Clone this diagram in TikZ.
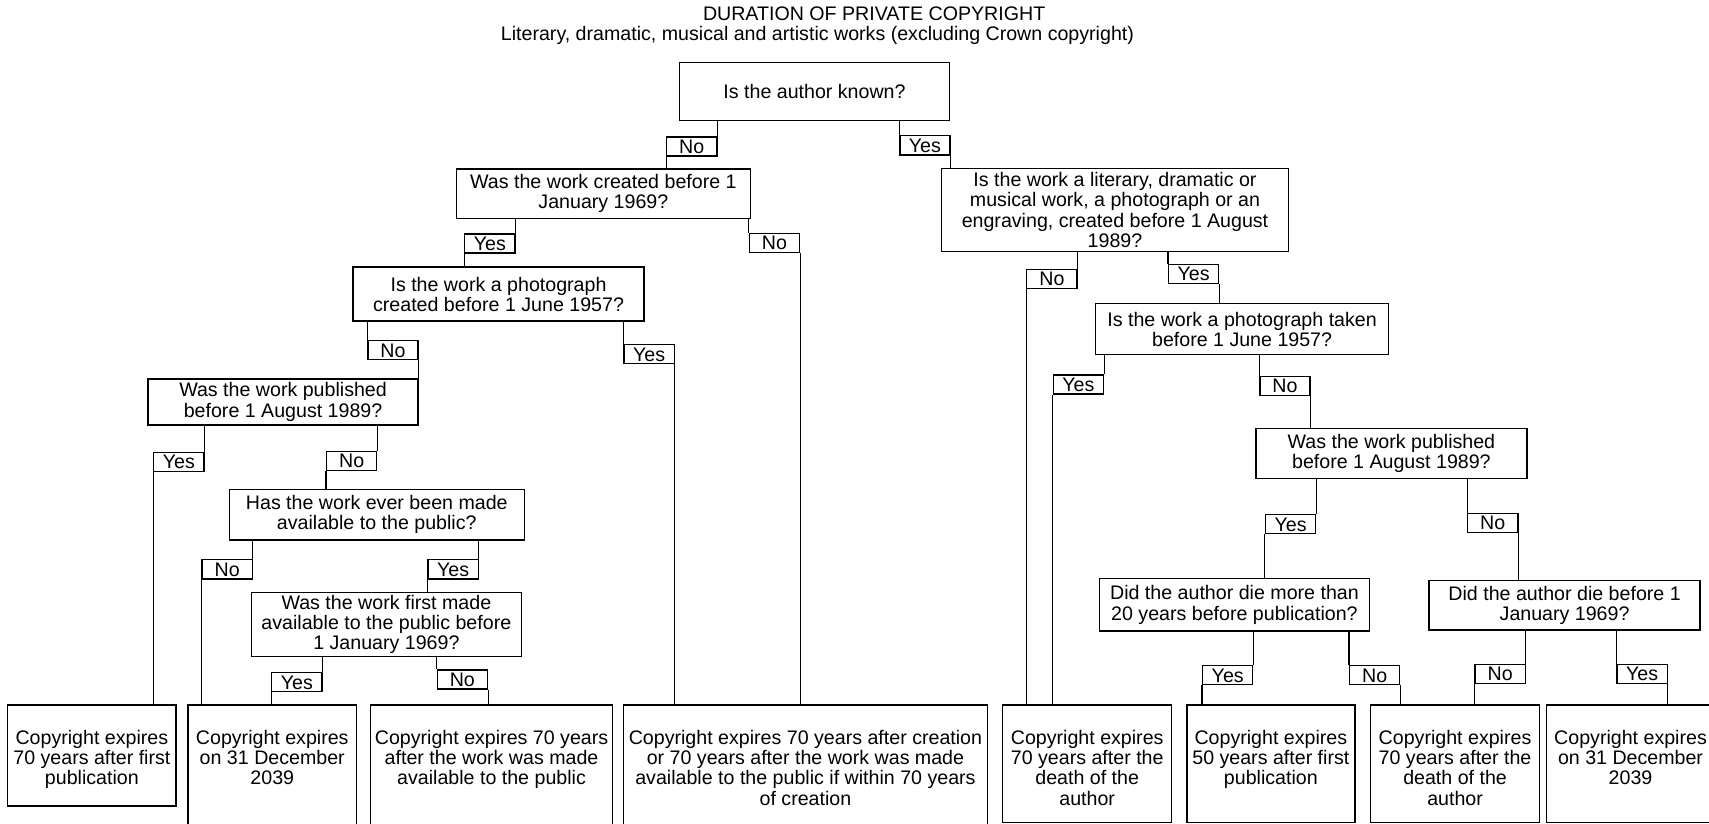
\documentclass[tikz,border=0pt]{standalone}
\usepackage{fontspec}
\setmainfont{Liberation Sans}
\usetikzlibrary{positioning}

% text of an end box, set from its top
\newcommand{\outtext}[3]{\parbox[t][#1][t]{#2}{\centering\rule{0pt}{36.5pt}#3}}

\begin{document}
\begin{tikzpicture}[
    x=1pt, y=-1pt,
    qbox/.style={rectangle, draw, line width=1.3pt, inner sep=0pt, align=center, font=\fontsize{18}{18.5}\selectfont},
    endbox/.style={rectangle, draw, line width=1.3pt, inner sep=0pt, anchor=north, font=\fontsize{18}{18.5}\selectfont},
    ansbox/.style={rectangle, draw, line width=1.2pt, inner sep=0pt, minimum width=46pt, minimum height=17.5pt, text height=12.9pt, text depth=0pt, font=\fontsize{18}{18.5}\selectfont},
    link/.style={line width=1pt},
    heading/.style={anchor=base, font=\fontsize{18}{18.5}\selectfont}
]
\useasboundingbox (0,0) rectangle (1568,756);

% Title
\node[heading] (title) at (802,19) {DURATION OF PRIVATE COPYRIGHT};
\node[heading] (subtitle) at (750,37.3) {Literary, dramatic, musical and artistic works (excluding Crown copyright)};

% Questions
\node[qbox, minimum width=248pt, minimum height=53pt] (q1) at (747.3,84.1) {Is the author known?};
\node[qbox, minimum width=270pt, minimum height=45.3pt] (q2) at (553.6,177.7) {Was the work created before 1\\January 1969?};
\node[qbox, minimum width=318pt, minimum height=76.6pt] (q3) at (1023,192.7) {Is the work a literary, dramatic or\\musical work, a photograph or an\\engraving, created before 1 August\\1989?};
\node[qbox, minimum width=266.8pt, minimum height=49.5pt] (q4) at (457.4,269.8) {Is the work a photograph\\created before 1 June 1957?};
\node[qbox, minimum width=247.5pt, minimum height=42.3pt] (q5) at (259.7,368.8) {Was the work published\\before 1 August 1989?};
\node[qbox, minimum width=270.7pt, minimum height=46.5pt] (q6) at (345.7,472.2) {Has the work ever been made\\available to the public?};
\node[qbox, minimum width=248pt, minimum height=59pt] (q7) at (354.5,573) {Was the work first made\\available to the public before\\1 January 1969?};
\node[qbox, minimum width=268.7pt, minimum height=46.8pt] (q8) at (1139.6,302) {Is the work a photograph taken\\before 1 June 1957?};
\node[qbox, minimum width=248.7pt, minimum height=46pt] (q9) at (1276.6,416) {Was the work published\\before 1 August 1989?};
\node[qbox, minimum width=247.6pt, minimum height=48pt] (q10) at (1132.6,555) {Did the author die more than\\20 years before publication?};
\node[qbox, minimum width=248.5pt, minimum height=45.6pt] (q11) at (1435.5,555.2) {Did the author die before 1\\January 1969?};

% Outcomes
\node[endbox] (f1) at (84.3,646) {\outtext{93pt}{154.6pt}{Copyright expires\\70 years after first\\publication}};
\node[endbox] (f2) at (249.8,646) {\outtext{130pt}{154.4pt}{Copyright expires\\on 31 December\\2039}};
\node[endbox] (f3) at (451,646) {\outtext{130pt}{222pt}{Copyright expires 70 years\\after the work was made\\available to the public}};
\node[endbox] (f4) at (739,646) {\outtext{130pt}{334pt}{Copyright expires 70 years after creation\\or 70 years after the work was made\\available to the public if within 70 years\\of creation}};
\node[endbox] (f5) at (997.5,646) {\outtext{108pt}{155pt}{Copyright expires\\70 years after the\\death of the\\author}};
\node[endbox] (f6) at (1166,646) {\outtext{108pt}{154pt}{Copyright expires\\50 years after first\\publication}};
\node[endbox] (f7) at (1335,646) {\outtext{108pt}{155pt}{Copyright expires\\70 years after the\\death of the\\author}};
\node[endbox] (f8) at (1496,646) {\outtext{108pt}{154pt}{Copyright expires\\on 31 December\\2039}};

% Answers
\node[ansbox, anchor=north east] (q1no) at (658.3,125) {No};
\node[ansbox, anchor=north west] (q1yes) at (825,124) {Yes};
\node[ansbox, anchor=north east] (q2yes) at (473,214) {Yes};
\node[ansbox, anchor=north west] (q2no) at (687,213.5) {No};
\node[ansbox, anchor=north east] (q3no) at (988.7,246.5) {No};
\node[ansbox, anchor=north west] (q3yes) at (1071.6,242) {Yes};
\node[ansbox, anchor=north west] (q4no) at (337,312) {No};
\node[ansbox, anchor=north west] (q4yes) at (572,315.6) {Yes};
\node[ansbox, anchor=north east] (q5yes) at (187.7,414.4) {Yes};
\node[ansbox, anchor=north east] (q5no) at (346.3,413.5) {No};
\node[ansbox, anchor=north east] (q6no) at (232,513) {No};
\node[ansbox, anchor=north east] (q6yes) at (439.4,513) {Yes};
\node[ansbox, anchor=north east] (q7yes) at (296,616.5) {Yes};
\node[ansbox, anchor=north west] (q7no) at (400.6,614) {No};
\node[ansbox, anchor=north east] (q8yes) at (1013,343.4) {Yes};
\node[ansbox, anchor=north west] (q8no) at (1155.3,344.7) {No};
\node[ansbox, anchor=north east] (q9yes) at (1207.7,471.6) {Yes};
\node[ansbox, anchor=north west] (q9no) at (1346,470.4) {No};
\node[ansbox, anchor=north east] (q10yes) at (1150,610) {Yes};
\node[ansbox, anchor=north west] (q10no) at (1237.7,610) {No};
\node[ansbox, anchor=north east] (q11no) at (1400,609) {No};
\node[ansbox, anchor=north west] (q11yes) at (1483,609) {Yes};

% Links through the answers
\draw[link] (q1.south -| q1no.north east) -- (q1no.north east) (q1no.south west) -- (q1no.south west |- q2.north);
\draw[link] (q1.south -| q1yes.north west) -- (q1yes.north west) (q1yes.south east) -- (q1yes.south east |- q3.north);
\draw[link] (q2.south -| q2yes.north east) -- (q2yes.north east) (q2yes.south west) -- (q2yes.south west |- q4.north);
\draw[link] (q2.south -| q2no.north west) -- (q2no.north west) (q2no.south east) -- (q2no.south east |- f4.north);
\draw[link] (q3.south -| q3no.north east) -- (q3no.north east) (q3no.south west) -- (q3no.south west |- f5.north);
\draw[link] (q3.south -| q3yes.north west) -- (q3yes.north west) (q3yes.south east) -- (q3yes.south east |- q8.north);
\draw[link] (q4.south -| q4no.north west) -- (q4no.north west) (q4no.south east) -- (q4no.south east |- q5.north);
\draw[link] (q4.south -| q4yes.north west) -- (q4yes.north west) (q4yes.south east) -- (q4yes.south east |- f4.north);
\draw[link] (q5.south -| q5yes.north east) -- (q5yes.north east) (q5yes.south west) -- (q5yes.south west |- f1.north);
\draw[link] (q5.south -| q5no.north east) -- (q5no.north east) (q5no.south west) -- (q5no.south west |- q6.north);
\draw[link] (q6.south -| q6no.north east) -- (q6no.north east) (q6no.south west) -- (q6no.south west |- f2.north);
\draw[link] (q6.south -| q6yes.north east) -- (q6yes.north east) (q6yes.south west) -- (q6yes.south west |- q7.north);
\draw[link] (q7.south -| q7yes.north east) -- (q7yes.north east) (q7yes.south west) -- (q7yes.south west |- f2.north);
\draw[link] (q7.south -| q7no.north west) -- (q7no.north west) (q7no.south east) -- (q7no.south east |- f3.north);
\draw[link] (q8.south -| q8yes.north east) -- (q8yes.north east) (q8yes.south west) -- (q8yes.south west |- f5.north);
\draw[link] (q8.south -| q8no.north west) -- (q8no.north west) (q8no.south east) -- (q8no.south east |- q9.north);
\draw[link] (q9.south -| q9yes.north east) -- (q9yes.north east) (q9yes.south west) -- (q9yes.south west |- q10.north);
\draw[link] (q9.south -| q9no.north west) -- (q9no.north west) (q9no.south east) -- (q9no.south east |- q11.north);
\draw[link] (q10.south -| q10yes.north east) -- (q10yes.north east) (q10yes.south west) -- (q10yes.south west |- f6.north);
\draw[link] (q10.south -| q10no.north west) -- (q10no.north west) (q10no.south east) -- (q10no.south east |- f7.north);
\draw[link] (q11.south -| q11no.north east) -- (q11no.north east) (q11no.south west) -- (q11no.south west |- f7.north);
\draw[link] (q11.south -| q11yes.north west) -- (q11yes.north west) (q11yes.south east) -- (q11yes.south east |- f8.north);

\end{tikzpicture}
\end{document}
